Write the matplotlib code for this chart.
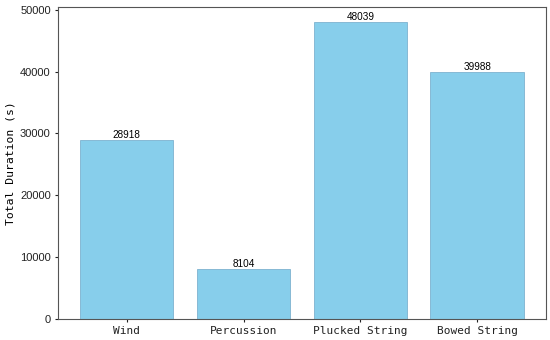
import matplotlib
matplotlib.use("Agg")
import matplotlib.pyplot as plt

# ---------------------------------------------------
# DATA
# ---------------------------------------------------
categories = ["Wind", "Percussion", "Plucked String", "Bowed String"]
durations = [28918, 8104, 48039, 39988]

# ---------------------------------------------------
# FIGURE
# ---------------------------------------------------
fig = plt.figure(figsize=(5.5, 3.4), dpi=100)
ax = fig.add_axes([0.105, 0.062, 0.888, 0.917])

bars = ax.bar(categories, durations, width=0.8, color="#87CEEB",
              edgecolor="#6fa8c8", linewidth=0.5)

# value labels on top
for b, v in zip(bars, durations):
    ax.text(b.get_x() + b.get_width() / 2, v, str(v),
            ha="center", va="bottom", fontsize=7.2, family="Liberation Sans")

ax.set_ylabel("Total Duration (s)", fontsize=8.2, family="DejaVu Sans Mono",
              labelpad=3)
ax.set_yticks([0, 10000, 20000, 30000, 40000, 50000])

ax.tick_params(axis="both", length=2, width=0.8, pad=3, colors="#222222")
for lbl in ax.get_xticklabels():
    lbl.set_family("DejaVu Sans Mono")
    lbl.set_fontsize(8)
for lbl in ax.get_yticklabels():
    lbl.set_family("Liberation Sans")
    lbl.set_fontsize(8)

for s in ax.spines.values():
    s.set_color("#555555")
    s.set_linewidth(0.8)

fig.savefig("out.png", dpi=100)
